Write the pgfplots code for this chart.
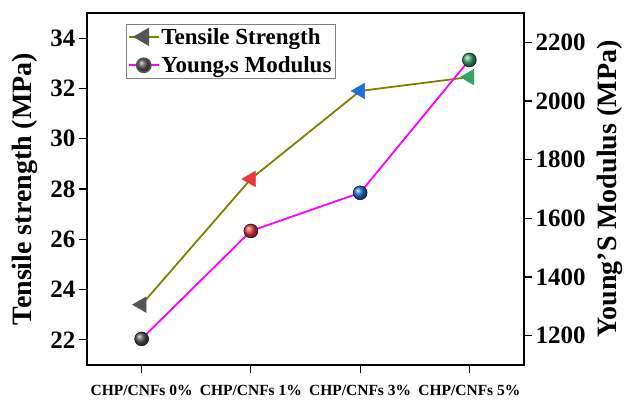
\documentclass[border=0pt]{standalone}
\usepackage{pgfplots}
\pgfplotsset{compat=1.18}
\usepackage{fontspec}
\setmainfont{Liberation Serif}
\definecolor{cgray}{HTML}{555555}
\definecolor{cred}{HTML}{E8383C}
\definecolor{cblue}{HTML}{1F6FD8}
\definecolor{cgreen}{HTML}{35A268}
\definecolor{colive}{HTML}{808000}
\definecolor{cmag}{HTML}{FF00FF}
\begin{document}
\begin{tikzpicture}
\pgfplotsset{
  base/.style={width=437pt,height=352pt,scale only axis,
    xmin=-0.5,xmax=3.5,
    axis line style={line width=1.3pt},
    tick style={line width=1.2pt,black},
    major tick length=8pt, tick align=outside,
    /pgf/number format/assume math mode=true,
    /pgf/number format/1000 sep={},
    ticklabel style={font=\fontsize{25}{28}\selectfont\bfseries},
    label style={font=\fontsize{28}{32}\selectfont\bfseries},
  },
  lgimg/.style={legend image code/.code={\draw[mark repeat=2,mark phase=2,##1] plot coordinates {(0cm,0cm) (0.52cm,0cm) (1.04cm,0cm)};}},
}
\begin{axis}[base, name=ax1,
  ymin=21, ymax=35, ytick={22,24,...,34}, ytick pos=left,
  xtick={0,1,2,3}, xtick pos=bottom,
  xticklabels={CHP/CNFs 0\%,CHP/CNFs 1\%,CHP/CNFs 3\%,CHP/CNFs 5\%},
  xticklabel style={font=\fontsize{15.5}{19}\selectfont\bfseries, yshift=-9pt},
  ylabel={Tensile strength (MPa)},
  ylabel style={yshift=6pt},
]
\addplot[colive, line width=1.8pt, forget plot] table {
x y
0 23.4
1 28.4
2 31.9
3 32.45
};
\addplot[scatter, only marks, scatter src=explicit symbolic, forget plot,
  mark options={rotate=90},
  scatter/classes={
    a={mark=triangle*, mark size=9pt, cgray, fill=cgray, draw=cgray},
    b={mark=triangle*, mark size=9pt, cred, fill=cred, draw=cred},
    c={mark=triangle*, mark size=9pt, cblue, fill=cblue, draw=cblue},
    d={mark=triangle*, mark size=9pt, cgreen, fill=cgreen, draw=cgreen}}]
table[meta=c] {
x y c
0 23.4 a
1 28.4 b
2 31.9 c
3 32.45 d
};
\end{axis}
\begin{axis}[base, name=ax2,
  ymin=1100, ymax=2300, ytick={1200,1400,...,2200},
  ytick pos=right, yticklabel pos=right,
  xtick=\empty,
  ylabel={Young’S Modulus (MPa)},
  ylabel style={yshift=-5pt},
  legend style={at={(0.089,0.969)}, anchor=north west, draw=gray, fill=white,
    font=\fontsize{23}{26}\selectfont\bfseries, row sep=7pt, inner sep=2pt},
  legend cell align=left,
]
\addlegendimage{lgimg, colive, line width=1.8pt, mark=triangle*, mark size=9pt, mark options={rotate=90, fill=cgray, draw=cgray}}
\addlegendentry{Tensile Strength}
\addlegendimage{lgimg, cmag, line width=1.8pt, mark=ball, mark size=7pt, mark options={draw=cgray}, ball color=cgray}
\addlegendentry{Young\raisebox{0.3ex}{,}s Modulus}
\addplot[cmag, line width=1.8pt, forget plot] table {
x y
0 1189
1 1557
2 1687
3 2140
};
\addplot[scatter, only marks, scatter src=explicit symbolic, forget plot,
  scatter/classes={
    a={mark=ball, mark size=7pt, ball color=cgray},
    b={mark=ball, mark size=7pt, ball color=cred},
    c={mark=ball, mark size=7pt, ball color=cblue},
    d={mark=ball, mark size=7pt, ball color=cgreen}}]
table[meta=c] {
x y c
0 1189 a
1 1557 b
2 1687 c
3 2140 d
};
\end{axis}
\pgfresetboundingbox
\path ([shift={(-87pt,-39pt)}]ax1.south west) rectangle ([shift={(102pt,13pt)}]ax1.north east);
\end{tikzpicture}
\end{document}
